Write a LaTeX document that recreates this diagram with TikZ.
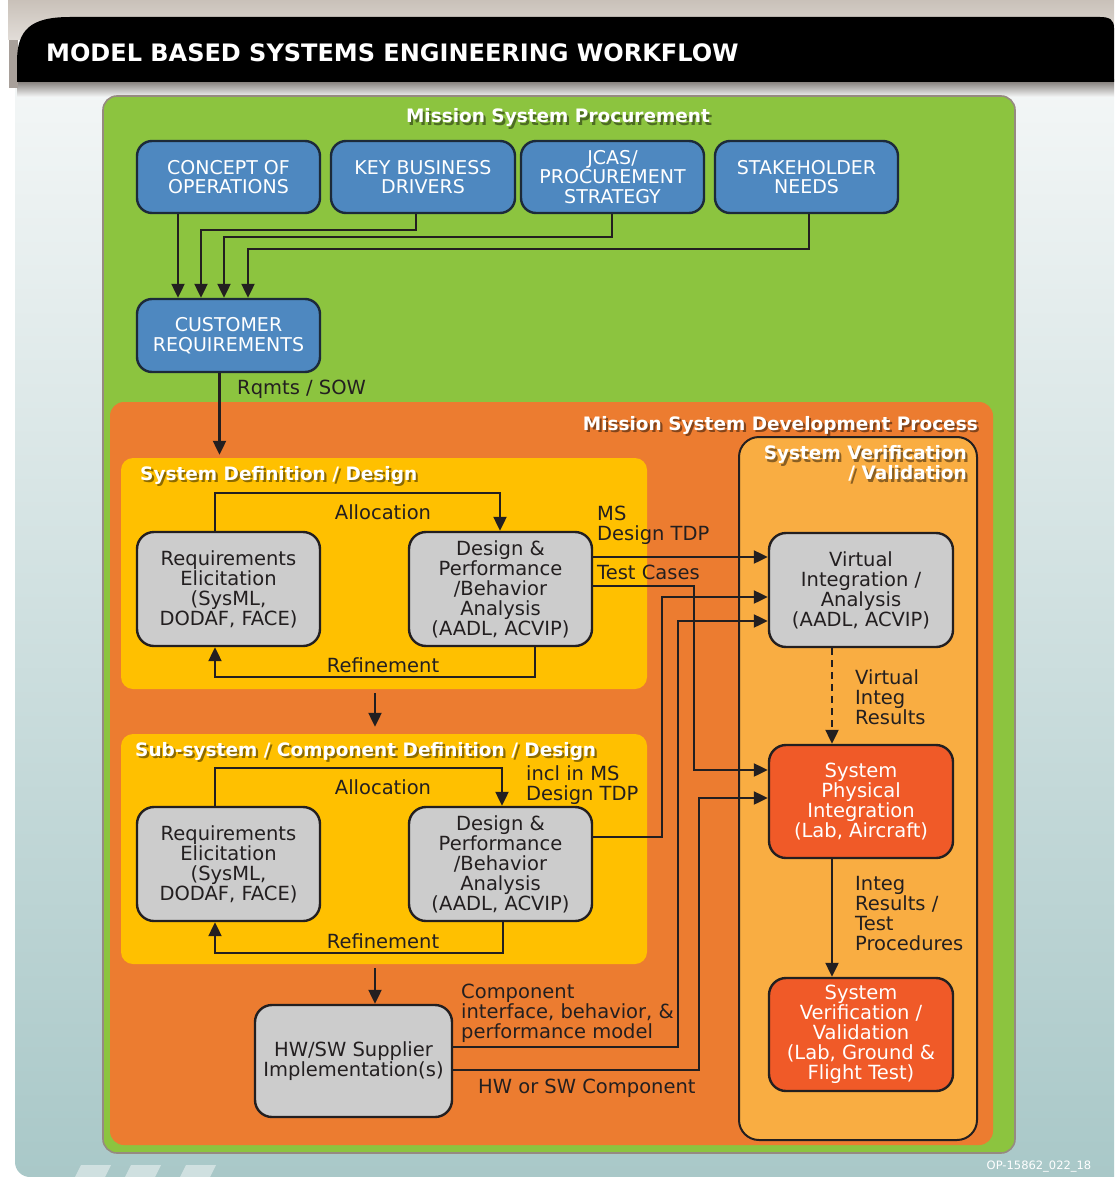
\documentclass[tikz,border=0pt]{standalone}
\usepackage{fontspec}
\setmainfont{DejaVu Sans}
\usetikzlibrary{arrows.meta}

\definecolor{ink}{HTML}{231F20}
\definecolor{navy}{HTML}{1C2A3A}
\definecolor{boxblue}{HTML}{4E88C0}
\definecolor{boxgray}{HTML}{CCCCCC}
\definecolor{boxred}{HTML}{F05A28}
\definecolor{procgreen}{HTML}{8CC43F}
\definecolor{devorange}{HTML}{EC7C30}
\definecolor{defyellow}{HTML}{FFC000}
\definecolor{verorange}{HTML}{F9AD42}
\definecolor{framebrown}{HTML}{968A80}
\definecolor{paneltop}{HTML}{F6F8F8}
\definecolor{panelbot}{HTML}{A9C8C8}
\definecolor{bandtop}{HTML}{C9C1B9}
\definecolor{bandbot}{HTML}{E2DDD8}
\definecolor{shadowgray}{HTML}{7A7470}
\definecolor{edgegray}{HTML}{A8A09A}

\newcommand\txtfont{\fontsize{19.5}{20}\selectfont}
\newcommand\capsfont{\fontsize{19}{19.5}\selectfont}
\newcommand\hdrfont{\fontsize{18.5}{20}\selectfont\bfseries}

% white lettering with a drop shadow tinted from the colour behind it
\newcommand\shadowed[2]{%
  \leavevmode
  \rlap{\kern2.2pt\raisebox{-2.2pt}{\color{#1!55!black}#2}}%
  {\color{white}#2}}

\tikzset{
  box/.style={draw=ink, line width=2.4pt, rounded corners=17pt, align=center,
    inner sep=0pt, font=\txtfont},
  bluebox/.style={box, draw=navy, fill=boxblue, text=white, font=\capsfont,
    minimum width=183pt, minimum height=72pt, rounded corners=15pt},
  graybox/.style={box, fill=boxgray, text=ink, minimum width=183pt, minimum height=114pt},
  redbox/.style={box, fill=boxred, text=white, minimum width=184pt, minimum height=113pt},
  panel/.style={inner sep=0pt, rounded corners=14pt},
  wire/.style={draw=ink, line width=2.2pt},
  arr/.style={wire, -{Triangle[width=13pt,length=14pt]}},
  lbl/.style={text=ink, font=\txtfont, align=left, inner sep=0pt},
  hdr/.style={font=\hdrfont, inner sep=0pt},
}

\begin{document}
\begin{tikzpicture}[x=1pt, y=-1pt]
\useasboundingbox (0,0) rectangle (1114,1177);
\clip (0,0) rectangle (1114,1177);

% page backdrop
\fill[white] (0,0) rectangle (1114,1177);
\shade[top color=paneltop, bottom color=panelbot, rounded corners=15pt]
  (15,40) rectangle (1140,1177);
\shade[top color=bandtop, bottom color=bandbot] (8,0) rectangle (1114,40);

% bottom stripes
\foreach \a [count=\k] in {75,125,180}{
  \fill[white, opacity=0.45] (\a,1177) -- (\a+6,1165) -- (\a+36,1165) -- (\a+30,1177) -- cycle;
}

% title bar with its shadow
\shade[top color=shadowgray, bottom color=paneltop] (17,80) rectangle (1114,97);
\fill[edgegray] (9,40) rectangle (18,88);
\fill[black] (17,82) -- (17,62) .. controls (17,30) and (30,17) .. (70,17)
  -- (1100,17) .. controls (1110,17) and (1114,20) .. (1114,28) -- (1114,82) -- cycle;
\node[font=\fontsize{24}{24}\selectfont\bfseries, text=white, anchor=west, inner sep=0pt]
  (title) at (46,53) {MODEL BASED SYSTEMS ENGINEERING WORKFLOW};

% nested process panels
\node[panel, draw=framebrown, line width=1.6pt, fill=procgreen,
  minimum width=912pt, minimum height=1057pt] (procpanel) at (559,624.5) {};
\node[panel, fill=devorange, minimum width=883pt, minimum height=743pt] (devpanel) at (551.5,773.5) {};
\node[panel, fill=defyellow, rounded corners=12pt, minimum width=526pt, minimum height=231pt] (defpanel) at (384,573.5) {};
\node[panel, fill=defyellow, rounded corners=12pt, minimum width=526pt, minimum height=230pt] (subpanel) at (384,849) {};
\node[panel, draw=ink, line width=2pt, fill=verorange, rounded corners=20pt,
  minimum width=238pt, minimum height=703pt] (verpanel) at (858,788.5) {};

% headings
\node[hdr, anchor=base] (hprocure) at (558,123) {\shadowed{procgreen}{Mission System Procurement}};
\node[hdr, anchor=base east] (hdev) at (978,430) {\shadowed{devorange}{Mission System Development Process}};
\node[hdr, anchor=base west] (hdef) at (140,480) {\shadowed{defyellow}{System Definition / Design}};
\node[hdr, anchor=base west] (hsub) at (135,756) {\shadowed{defyellow}{Sub-system / Component Definition / Design}};
\node[hdr, anchor=east] (hver) at (967,467)
  {\shadowed{verorange}{\begin{tabular}{@{}r@{}}System Verification\\/ Validation\end{tabular}}};

% procurement inputs
\node[bluebox] (conops) at (228.5,177) {CONCEPT OF\\OPERATIONS};
\node[bluebox, minimum width=184pt] (keybiz) at (423,177) {KEY BUSINESS\\DRIVERS};
\node[bluebox] (jcas) at (612.5,177) {JCAS/\\PROCUREMENT\\STRATEGY};
\node[bluebox] (stake) at (806.5,177) {STAKEHOLDER\\NEEDS};
\node[bluebox, minimum height=73pt] (custreq) at (228.5,335.5) {CUSTOMER\\REQUIREMENTS};

\draw[arr] ([xshift=-50.5pt]conops.south) -- ([xshift=-50.5pt]custreq.north);
\draw[arr] ([xshift=-7pt]keybiz.south) -- ++(0,16) -| ([xshift=-27.5pt]custreq.north);
\draw[arr] ([xshift=-0.5pt]jcas.south) -- ++(0,23) -| ([xshift=-4.5pt]custreq.north);
\draw[arr] ([xshift=2.5pt]stake.south) -- ++(0,35) -| ([xshift=19.5pt]custreq.north);

\draw[arr] ([xshift=-9pt]custreq.south) -- ([xshift=-9pt,yshift=3pt]custreq.south |- defpanel.north);
\node[lbl, anchor=west] (rqmts) at (237,389) {Rqmts / SOW};

% system definition / design
\node[graybox] (req1) at (228.5,589) {Requirements\\Elicitation\\(SysML,\\DODAF, FACE)};
\node[graybox] (des1) at (500.5,589) {Design \&\\Performance\\/Behavior\\Analysis\\(AADL, ACVIP)};
\draw[arr] ([xshift=-13.5pt]req1.north) -- ++(0,-38) -| ([xshift=-0.5pt]des1.north);
\draw[arr] ([xshift=34.5pt]des1.south) -- ++(0,30) -| ([xshift=-13.5pt]req1.south);
\node[lbl] (alloc1) at (383,512) {Allocation};
\node[lbl] (refine1) at (383,665) {Refinement};

\draw[arr] ([xshift=-9pt,yshift=-4pt]defpanel.south) -- ([xshift=-9pt,yshift=7pt]subpanel.north);

% sub-system / component definition / design
\node[graybox] (req2) at (228.5,864) {Requirements\\Elicitation\\(SysML,\\DODAF, FACE)};
\node[graybox] (des2) at (500.5,864) {Design \&\\Performance\\/Behavior\\Analysis\\(AADL, ACVIP)};
\draw[arr] ([xshift=-13.5pt]req2.north) -- ++(0,-38) -| ([xshift=1.5pt]des2.north);
\draw[arr] ([xshift=2.5pt]des2.south) -- ++(0,31) -| ([xshift=-13.5pt]req2.south);
\node[lbl] (alloc2) at (383,787) {Allocation};
\node[lbl] (refine2) at (383,941) {Refinement};

% supplier implementation
\node[graybox, minimum width=197pt, minimum height=112pt] (hw) at (353.5,1061) {HW/SW Supplier\\Implementation(s)};

\draw[arr] ([xshift=-9pt,yshift=-4pt]subpanel.south) -- ([xshift=-9pt]subpanel.south |- hw.north);

% verification / validation chain
\node[graybox, minimum width=184pt] (virt) at (861,590) {Virtual\\Integration /\\Analysis\\(AADL, ACVIP)};
\node[redbox] (phys) at (861,801.5) {System\\Physical\\Integration\\(Lab, Aircraft)};
\node[redbox] (sysver) at (861,1034.5) {System\\Verification /\\Validation\\(Lab, Ground \&\\Flight Test)};

\draw[arr, dash pattern=on 7pt off 5pt] ([xshift=-29pt]virt.south) -- ([xshift=-29pt]phys.north);
\draw[arr] ([xshift=-29pt]phys.south) -- ([xshift=-29pt]sysver.north);
\node[lbl, anchor=west] (virtres) at (855,697) {Virtual\\Integ\\Results};
\node[lbl, anchor=west] (integres) at (855,913.5) {Integ\\Results /\\Test\\Procedures};

% design data flowing to verification
\draw[arr] ([yshift=32pt]des1.east) -- ([yshift=32pt]des1.east -| virt.west);
\draw[arr] ([yshift=3pt]des1.east) -- ++(101,0) |- ([yshift=31.5pt]phys.west);
\draw[arr] ([yshift=27pt]des2.east) -- ++(69,0) |- ([yshift=-7pt]virt.west);
\draw[arr] ([yshift=14pt]hw.east) -- ++(225,0) |- ([yshift=-31pt]virt.west);
\draw[arr] ([yshift=-9pt]hw.east) -- ++(246,0) |- ([yshift=3.5pt]phys.west);

\node[lbl, anchor=west] (tdp) at (597,525.5) {MS\\Design TDP};
\node[lbl, anchor=west] (tcases) at (597,572) {Test Cases};
\node[lbl, anchor=west] (incl) at (526,785) {incl in MS\\Design TDP};
\node[lbl, anchor=west] (compmodel) at (461,1013) {Component\\interface, behavior, \&\\performance model};
\node[lbl, anchor=west] (hwcomp) at (478,1088) {HW or SW Component};

% drawing reference number
\node[text=white, font=\fontsize{11.5}{12}\selectfont, inner sep=0pt] (docid) at (1039,1167) {OP-15862\_022\_18};
\end{tikzpicture}
\end{document}
